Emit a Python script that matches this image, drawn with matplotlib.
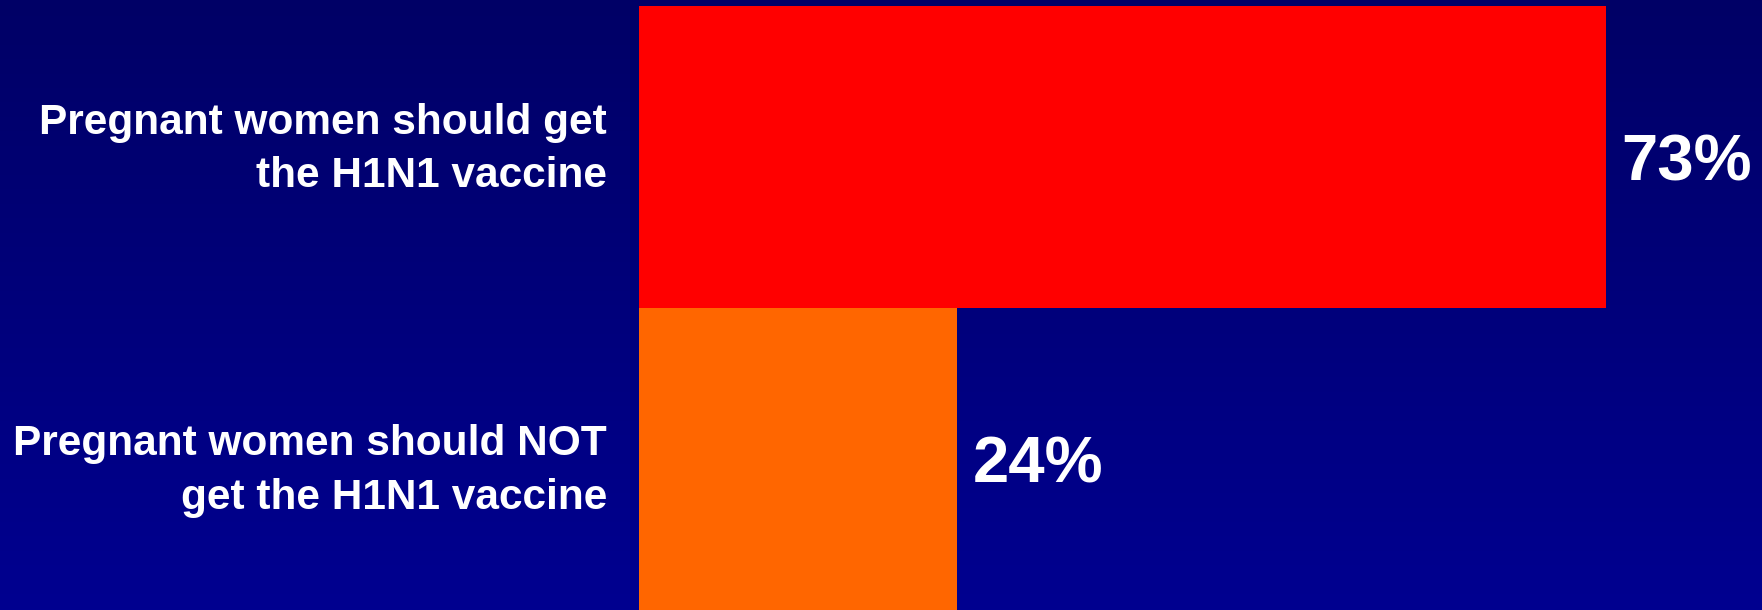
import numpy as np
import matplotlib
matplotlib.use("Agg")
import matplotlib.pyplot as plt
from matplotlib.colors import LinearSegmentedColormap

# data
labels = ["Pregnant women should NOT\nget the H1N1 vaccine",
          "Pregnant women should get\nthe H1N1 vaccine"]
values = [24, 73]
bar_colors = ["#FF6600", "#FF0000"]

W, H, DPI = 1762, 610, 100
fig = plt.figure(figsize=(W / DPI, H / DPI), dpi=DPI)

# background: vertical navy gradient
bg = fig.add_axes([0, 0, 1, 1])
cmap = LinearSegmentedColormap.from_list("navy", ["#000066", "#000090"])
grad = np.linspace(0, 1, 256).reshape(-1, 1)
bg.imshow(grad, aspect="auto", cmap=cmap, extent=[0, 1, 0, 1], origin="upper")
bg.set_axis_off()

# bar area starts at x=639 px and runs to the right edge
left = 639 / W
ax = fig.add_axes([left, 0, 1 - left, 1])
ax.patch.set_alpha(0)
y = np.arange(len(values))
ax.barh(y, values, height=1.0, color=bar_colors, linewidth=0)
ax.set_xlim(0, (W - 639) / 13.24)
ax.set_ylim(-0.5, 1.52)

for yi, v in zip(y, values):
    ax.text(v + 1.2, yi - 0.02, f"{v}%", va="center", ha="left", color="white",
            fontsize=47, fontweight="bold", family="Liberation Sans")

offsets = [-0.039, 0.025]
for yi, lab, off in zip(y, labels, offsets):
    ax.text(-2.4, yi + off, lab, va="center", ha="right",
            color="white", fontsize=30.5, fontweight="bold",
            family="Liberation Sans", linespacing=1.45, clip_on=False)

ax.set_axis_off()

fig.savefig("out.png", dpi=DPI)
